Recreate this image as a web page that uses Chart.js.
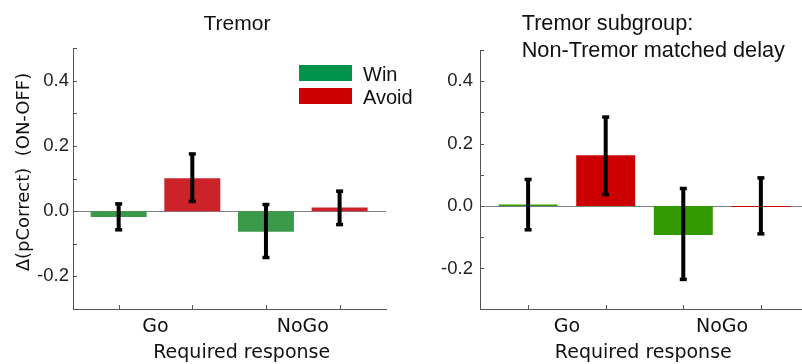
<!DOCTYPE html>
<html>
<head>
<meta charset="utf-8">
<script src="https://cdn.jsdelivr.net/npm/chart.js@4.4.0/dist/chart.umd.min.js"></script>
<style>
  body { margin: 0; background: #fff; width: 802px; height: 364px; position: relative; overflow: hidden; }
  canvas { position: absolute; top: 0; }
  #left { left: 0; }
  #right { left: 400px; }
</style>
</head>
<body>
<canvas id="left" width="430" height="364"></canvas>
<canvas id="right" width="402" height="364"></canvas>
<script>
// conditions: Win/Avoid x Go/NoGo
var conditions = ['Win Go', 'Avoid Go', 'Win NoGo', 'Avoid NoGo'];
var xPos = [0, 1, 2, 3];
var responseLabels = ['Go', 'NoGo'];
var responsePos = [0.5, 2.5];
var legendLabels = ['Win', 'Avoid'];

// Tremor
var tremorMean = [-0.018, 0.101, -0.063, 0.011];
var tremorLow = [-0.058, 0.029, -0.143, -0.042];
var tremorHigh = [0.023, 0.176, 0.021, 0.062];

// Tremor subgroup, non-tremor matched delay
var matchedMean = [0.005, 0.163, -0.093, -0.003];
var matchedLow = [-0.077, 0.036, -0.236, -0.090];
var matchedHigh = [0.086, 0.286, 0.057, 0.091];

// y ticks
var yLabelTicks = [-0.2, 0, 0.2, 0.4];
var yMinorTicks = [-0.2, -0.1, 0, 0.1, 0.2, 0.3, 0.4, 0.5];

var tickFont = { family: 'Liberation Sans', size: 18.5 };
var labelFont = '19px "DejaVu Sans"';

// zero line, inward ticks, error bars and texts
var extras = {
  id: 'extras',
  beforeDatasetsDraw: function(chart) {
    var ctx = chart.ctx, a = chart.chartArea, x = chart.scales.x, y = chart.scales.y;
    ctx.save();
    ctx.lineWidth = 1;
    ctx.strokeStyle = '#7f7f7f';
    var y0 = Math.round(y.getPixelForValue(0)) + 0.5;
    ctx.beginPath();
    ctx.moveTo(a.left, y0);
    ctx.lineTo(a.right, y0);
    ctx.stroke();
    ctx.strokeStyle = '#555';
    ctx.beginPath();
    yMinorTicks.forEach(function(v) {
      var py = Math.round(y.getPixelForValue(v)) + 0.5;
      ctx.moveTo(a.left, py);
      ctx.lineTo(a.left + 4, py);
    });
    xPos.forEach(function(v) {
      var px = Math.round(x.getPixelForValue(v)) + 0.5;
      ctx.moveTo(px, a.bottom);
      ctx.lineTo(px, a.bottom - 4);
    });
    ctx.stroke();
    ctx.restore();
  },
  afterDatasetsDraw: function(chart, args, opts) {
    var ctx = chart.ctx, x = chart.scales.x, y = chart.scales.y;
    ctx.save();
    ctx.fillStyle = '#000';
    xPos.forEach(function(v, i) {
      var px = x.getPixelForValue(v);
      var top = y.getPixelForValue(opts.high[i]);
      var bot = y.getPixelForValue(opts.low[i]);
      ctx.fillRect(px - 2, top, 4, bot - top);
      ctx.fillRect(px - 3.5, top - 1.5, 7, 3.5);
      ctx.fillRect(px - 3.5, bot - 2, 7, 3.5);
    });
    ctx.restore();
  },
  afterDraw: function(chart, args, opts) {
    var ctx = chart.ctx;
    ctx.save();
    ctx.fillStyle = '#111';
    ctx.textBaseline = 'alphabetic';
    (opts.texts || []).forEach(function(t) {
      ctx.font = t.font;
      ctx.textAlign = t.align || 'left';
      if (t.rotate) {
        ctx.save();
        ctx.translate(t.x, t.y);
        ctx.rotate(-Math.PI / 2);
        ctx.textBaseline = 'middle';
        ctx.fillText(t.text, 0, 0);
        ctx.restore();
      } else {
        ctx.fillText(t.text, t.x, t.y);
      }
    });
    if (opts.legend) {
      var lg = opts.legend;
      legendLabels.forEach(function(name, i) {
        ctx.fillStyle = lg.colors[i];
        ctx.fillRect(lg.x, lg.y + i * 23, 53, 16);
        ctx.fillStyle = '#111';
        ctx.font = '20px "Liberation Sans"';
        ctx.textAlign = 'left';
        ctx.fillText(name, lg.x + 64, lg.y + 16 + i * 23);
      });
    }
    ctx.restore();
  }
};

function makeChart(id, mean, low, high, colors, opt) {
  return new Chart(document.getElementById(id).getContext('2d'), {
    type: 'bar',
    data: {
      labels: conditions,
      datasets: [{
        data: xPos.map(function(v, i) { return { x: v, y: mean[i] }; }),
        backgroundColor: colors,
        borderWidth: 0,
        categoryPercentage: 0.8,
        barPercentage: 0.95
      }]
    },
    options: {
      responsive: false,
      animation: false,
      layout: { padding: { left: 0, top: opt.top, right: opt.right, bottom: 0 } },
      plugins: {
        legend: { display: false },
        tooltip: { enabled: false },
        extras: { low: low, high: high, texts: opt.texts, legend: opt.legend }
      },
      scales: {
        x: {
          type: 'linear',
          offset: false,
          min: opt.xmin,
          max: opt.xmax,
          grid: { display: false, drawTicks: false },
          border: { display: true, color: '#555', width: 1 },
          afterBuildTicks: function(s) { s.ticks = responsePos.map(function(v) { return { value: v }; }); },
          afterFit: function(s) { s.height = 55; },
          ticks: {
            autoSkip: false,
            maxRotation: 0,
            padding: 7,
            color: '#111',
            font: { family: 'DejaVu Sans', size: 19 },
            callback: function(v, i) { return responseLabels[i]; }
          }
        },
        y: {
          min: opt.ymin,
          max: 0.5,
          grid: { display: false, drawTicks: false },
          border: { display: true, color: '#555', width: 1 },
          afterBuildTicks: function(s) { s.ticks = yLabelTicks.map(function(v) { return { value: v }; }); },
          afterFit: function(s) { s.width = opt.yWidth; },
          ticks: {
            padding: opt.yPad,
            color: '#222',
            font: tickFont,
            callback: function(v) { return Number(v).toFixed(1); }
          }
        }
      }
    },
    plugins: [extras]
  });
}

makeChart('left', tremorMean, tremorLow, tremorHigh,
  ['#3a9a4a', '#cc2229', '#3a9a4a', '#cc2229'], {
    top: 48, right: 44, xmin: -0.62, xmax: 3.63, ymin: -0.3, yWidth: 73, yPad: 4,
    legend: { x: 299, y: 65, colors: ['#00934a', '#cc0000'] },
    texts: [
      { text: 'Tremor', x: 237, y: 29.5, font: '21px "Liberation Sans"', align: 'center' },
      { text: 'Required response', x: 241.7, y: 357.5, font: labelFont, align: 'center' },
      { text: '\u0394(pCorrect)  (ON-OFF)', x: 24, y: 172, font: '18px "DejaVu Sans"', align: 'center', rotate: true }
    ]
  });

makeChart('right', matchedMean, matchedLow, matchedHigh,
  ['#339900', '#cc0000', '#339900', '#cc0000'], {
    top: 50, right: 0, xmin: -0.62, xmax: 3.53, ymin: -0.33, yWidth: 80, yPad: 7,
    texts: [
      { text: 'Tremor subgroup:', x: 121.7, y: 30, font: '21.7px "Liberation Sans"', align: 'left' },
      { text: 'Non-Tremor matched delay', x: 121.7, y: 57, font: '21.7px "Liberation Sans"', align: 'left' },
      { text: 'Required response', x: 243.3, y: 357.5, font: labelFont, align: 'center' }
    ]
  });
</script>
</body>
</html>
